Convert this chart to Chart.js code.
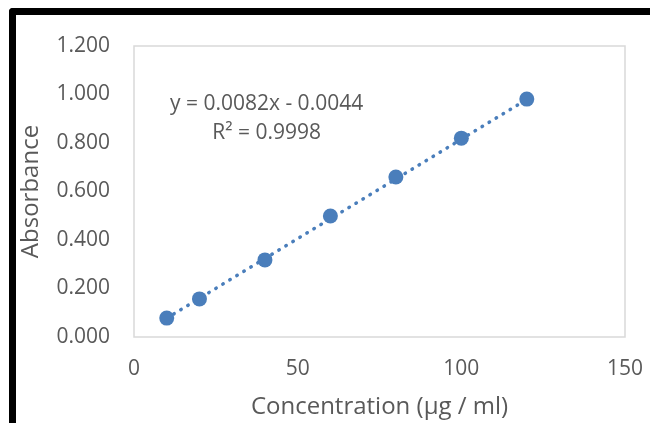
<!DOCTYPE html>
<html>
<head>
<meta charset="utf-8">
<script src="https://cdn.jsdelivr.net/npm/chart.js@4"></script>
<style>
  html, body { margin: 0; padding: 0; background: #fff; }
  body { width: 650px; height: 423px; position: relative; overflow: hidden; }
  #frame {
    position: absolute; left: 9px; top: 8px; width: 700px; height: 500px;
    border-top: 7px solid #000; border-left: 7px solid #000; border-top-left-radius: 4px;
  }
  #wrap { position: absolute; left: 0; top: 0; width: 650px; height: 423px; }
</style>
</head>
<body>
<div id="frame"></div>
<div id="wrap"><canvas id="chartId" width="650" height="423"></canvas></div>
<script>
// concentration (µg / ml) vs absorbance
const concentration = [10, 20, 40, 60, 80, 100, 120];
const absorbance = [0.078, 0.157, 0.318, 0.499, 0.660, 0.820, 0.981];
// linear trendline end points (Excel fit)
const trendX = [10, 120];
const trendY = [0.0776, 0.9796];
const eqLines = ["y = 0.0082x - 0.0044", "R² = 0.9998"];
const yTicks = [0, 0.2, 0.4, 0.6, 0.8, 1.0, 1.2];
const xTicks = [0, 50, 100, 150];

const BLUE = "#4a7ebb";
const TEXT = "#595959";
const FONT = "'Open Sans', 'Noto Sans', sans-serif";

// plot frame + equation label
const extras = {
  id: "extras",
  beforeDatasetsDraw(chart) {
    const { ctx, chartArea: { top, bottom, left, right } } = chart;
    ctx.save();
    ctx.strokeStyle = "#d9d9d9";
    ctx.lineWidth = 1.5;
    ctx.strokeRect(left, top, right - left, bottom - top);
    ctx.restore();
  },
  afterDatasetsDraw(chart) {
    const { ctx, scales: { x, y } } = chart;
    ctx.save();
    ctx.fillStyle = TEXT;
    ctx.font = `21px ${FONT}`;
    ctx.textAlign = "center";
    ctx.textBaseline = "middle";
    const cx = x.getPixelForValue(40.5);
    ctx.fillText(eqLines[0], cx, y.getPixelForValue(0.96));
    ctx.fillText(eqLines[1], cx, y.getPixelForValue(0.84));
    ctx.restore();
  },
};

new Chart(document.getElementById("chartId"), {
  type: "scatter",
  data: {
    datasets: [
      {
        data: concentration.map((c, i) => ({ x: c, y: absorbance[i] })),
        backgroundColor: BLUE,
        borderColor: BLUE,
        pointRadius: 7.5,
        pointHoverRadius: 7.5,
        pointBorderWidth: 0,
        order: 1,
      },
      {
        type: "line",
        data: trendX.map((c, i) => ({ x: c, y: trendY[i] })),
        borderColor: BLUE,
        borderWidth: 3.5,
        borderDash: [0.5, 7.7],
        borderCapStyle: "round",
        pointRadius: 0,
        fill: false,
        order: 2,
      },
    ],
  },
  options: {
    responsive: false,
    animation: false,
    events: [],
    layout: { padding: { top: 46, right: 25, bottom: 0, left: 0 } },
    plugins: { legend: { display: false }, tooltip: { enabled: false } },
    scales: {
      x: {
        type: "linear",
        min: 0,
        max: 150,
        afterBuildTicks: (s) => { s.ticks = xTicks.map((v) => ({ value: v })); },
        afterFit: (s) => { s.height = 86; s.paddingLeft = 0; s.paddingRight = 0; },
        grid: { display: false },
        border: { display: false },
        ticks: { color: TEXT, font: { family: FONT, size: 21 }, padding: 11, maxRotation: 0 },
        title: {
          display: true,
          text: "Concentration (µg / ml)",
          color: TEXT,
          font: { family: FONT, size: 24 },
          padding: { top: 0, bottom: 1 },
        },
      },
      y: {
        min: 0,
        max: 1.2,
        afterBuildTicks: (s) => { s.ticks = yTicks.map((v) => ({ value: v })); },
        afterFit: (s) => { s.width = 134; s.paddingTop = 0; s.paddingBottom = 0; },
        grid: { display: false },
        border: { display: false },
        ticks: {
          color: TEXT,
          font: { family: FONT, size: 21 },
          padding: 16,
          callback: (v) => Number(v).toFixed(3),
        },
        title: {
          display: true,
          text: "Absorbance",
          color: TEXT,
          font: { family: FONT, size: 24 },
          padding: { top: 17, bottom: 0 },
        },
      },
    },
  },
  plugins: [extras],
});
</script>
</body>
</html>
